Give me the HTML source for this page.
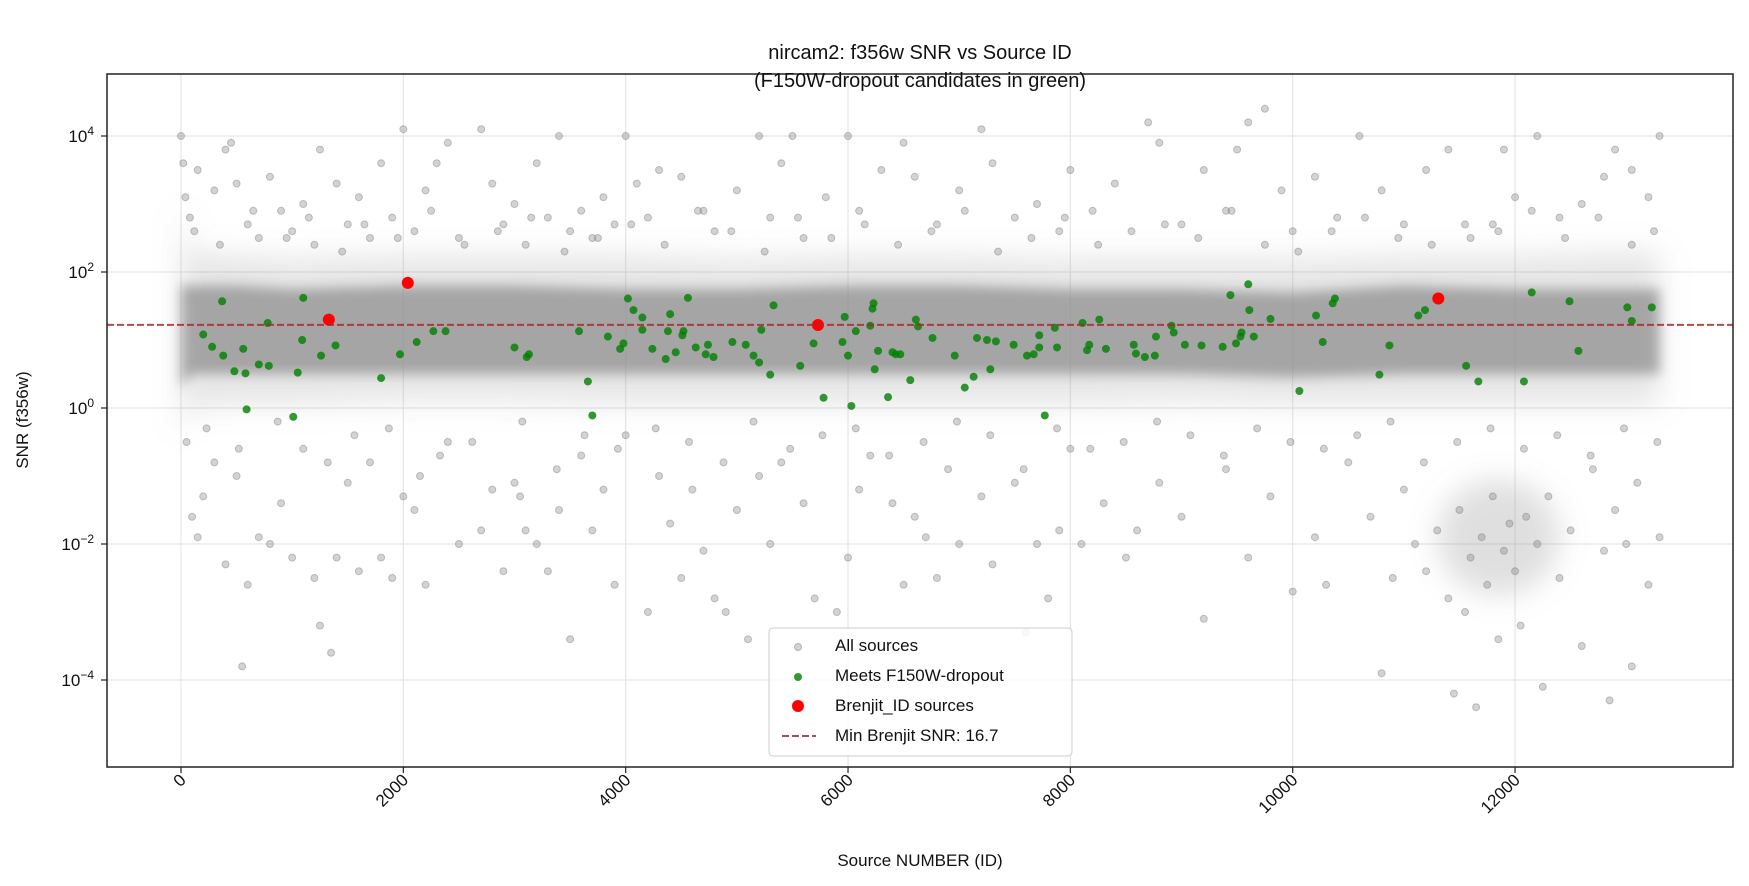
<!DOCTYPE html>
<html><head><meta charset="utf-8">
<style>
html,body{margin:0;padding:0;background:#fff;}
svg{display:block;font-family:"Liberation Sans","DejaVu Sans",sans-serif;}
</style></head>
<body>
<svg id="chart" width="1749" height="886" viewBox="0 0 1749 886">
<defs>
<filter id="soft" x="-10%" y="-50%" width="120%" height="200%"><feGaussianBlur stdDeviation="6"/></filter>
<filter id="soft2" x="-50%" y="-50%" width="200%" height="200%"><feGaussianBlur stdDeviation="14"/></filter>
</defs>
<rect x="0" y="0" width="1749" height="886" fill="#fff"/>
<g id="grid"></g>
<g id="density"></g>
<g id="gray"></g>
<g id="green"></g>
<g id="red"></g>
<g id="refline"></g>
<rect x="107" y="74" width="1626" height="693" fill="none" stroke="#222" stroke-width="1.5"/>
<g id="axes"></g>
<text x="920" y="59" text-anchor="middle" font-size="20" fill="#111">nircam2: f356w SNR vs Source ID</text>
<text x="920" y="87" text-anchor="middle" font-size="20" fill="#111">(F150W-dropout candidates in green)</text>
<text x="920" y="866" text-anchor="middle" font-size="17" fill="#111">Source NUMBER (ID)</text>
<text x="0" y="0" transform="translate(28,420) rotate(-90)" text-anchor="middle" font-size="17" fill="#111">SNR (f356w)</text>
<g>
<rect x="769" y="628" width="303" height="128" rx="4" fill="#fff" fill-opacity="0.85" stroke="#ccc"/>
<circle cx="798" cy="647" r="3.5" fill="#808080" fill-opacity="0.35" stroke="#808080" stroke-opacity="0.5"/>
<text x="835" y="651" font-size="17" fill="#111">All sources</text>
<circle cx="798" cy="677" r="4" fill="#008000" fill-opacity="0.8"/>
<text x="835" y="681" font-size="17" fill="#111">Meets F150W-dropout</text>
<circle cx="798" cy="706" r="6" fill="#ff0000"/>
<text x="835" y="711" font-size="17" fill="#111">Brenjit_ID sources</text>
<line x1="782" y1="736" x2="816" y2="736" stroke="#a52a2a" stroke-opacity="0.85" stroke-width="2" stroke-dasharray="7,3"/>
<text x="835" y="741" font-size="17" fill="#111">Min Brenjit SNR: 16.7</text>
</g>
</svg>
<script>
const xTicks=[0,2000,4000,6000,8000,10000,12000];
const yTickExps=[4,2,0,-2,-4];
const minBrenjitSnr=16.7;
const redIds=[1330,2040,5730,11310];
const redLogSnr=[1.30,1.84,1.22,1.61];
const greenIds=[200,280,370,380,480,560,580,590,700,780,790,1010,1050,1100,1090,1260,1390,1800,1970,2120,2270,2380,3000,3110,3130,3580,3660,3700,3840,3950,3980,4020,4070,4150,4150,4240,4360,4380,4400,4450,4510,4520,4560,4630,4720,4740,4790,4960,5080,5150,5200,5220,5300,5330,5570,5690,5780,5950,5970,6000,6030,6070,6200,6220,6230,6240,6270,6360,6400,6430,6470,6560,6610,6630,6760,6960,7050,7130,7160,7250,7280,7330,7490,7610,7670,7720,7720,7770,7860,7880,8110,8150,8170,8260,8320,8570,8590,8670,8760,8770,8910,8930,9030,9180,9370,9440,9490,9530,9540,9600,9610,9650,9800,10060,10210,10270,10360,10380,10780,10870,11130,11190,11560,11670,12080,12150,12490,12570,13010,13050,13230];
const greenLogSnr=[1.08,0.90,1.57,0.77,0.54,0.87,0.51,-0.02,0.64,1.25,0.62,-0.13,0.52,1.62,1.00,0.77,0.92,0.44,0.79,0.97,1.13,1.13,0.89,0.75,0.79,1.13,0.39,-0.11,1.05,0.87,0.95,1.61,1.44,1.33,1.15,0.87,0.72,1.13,1.38,0.82,1.07,1.13,1.62,0.89,0.79,0.93,0.75,0.97,0.93,0.77,0.67,1.15,0.49,1.51,0.62,0.95,0.15,0.97,1.34,0.77,0.03,1.13,1.21,1.46,1.54,0.57,0.84,0.16,0.82,0.79,0.79,0.41,1.30,1.20,1.03,0.77,0.30,0.46,1.03,1.00,0.57,0.98,0.93,0.77,0.79,0.89,1.07,-0.11,1.18,0.89,1.25,0.85,0.93,1.30,0.87,0.93,0.80,0.75,0.77,1.05,1.21,1.11,0.93,0.92,0.90,1.66,0.95,1.05,1.11,1.82,1.44,1.05,1.31,0.25,1.36,0.97,1.54,1.61,0.49,0.92,1.36,1.44,0.62,0.39,0.39,1.70,1.57,0.84,1.48,1.28,1.48];
const grayIds=[0,20,40,80,150,300,400,450,500,600,700,800,900,1000,1100,1200,1250,1400,1500,1600,1700,1800,1900,2000,2100,2200,2300,2400,2500,2700,2800,2900,3000,3100,3200,3300,3400,3500,3600,3700,3800,3900,4000,4100,4200,4300,4500,4700,4800,5000,5200,5300,5400,5500,5600,5800,6000,6100,6300,6500,6600,6800,7000,7200,7300,7500,7700,7900,8000,8200,8400,8700,8800,9000,9200,9400,9500,9600,9750,9900,10000,10200,10400,10600,10800,11000,11200,11400,11600,11800,11900,12000,12200,12400,12600,12800,12900,13050,13200,13300,
50,100,150,200,300,400,500,550,600,700,800,900,1000,1100,1200,1250,1350,1400,1500,1600,1700,1800,1900,2000,2100,2150,2200,2400,2500,2700,2800,2900,3000,3050,3100,3200,3300,3400,3500,3600,3700,3800,3900,4000,4200,4300,4400,4500,4600,4700,4800,4900,5000,5100,5200,5300,5400,5600,5700,5900,6000,6100,6200,6400,6500,6600,6700,6800,6900,7000,7200,7300,7500,7600,7700,7800,7900,8000,8100,8300,8500,8600,8800,9000,9200,9400,9600,9800,10000,10200,10300,10500,10700,10800,10900,11000,11100,11200,11300,11400,11450,11500,11550,11600,11650,11700,11750,11800,11850,11900,11950,12000,12050,12100,12200,12250,12300,12400,12500,12600,12700,12800,12850,12900,13000,13050,13100,13200,13300,
120,350,650,950,1150,1450,1650,1950,2250,2550,2850,3150,3450,3750,4050,4350,4650,4950,5250,5550,5850,6150,6450,6750,7050,7350,7650,7950,8250,8550,8850,9150,9450,9750,10050,10350,10650,10950,11250,11550,11850,12150,12450,12750,13050,13250,
230,520,870,1320,1560,1870,2330,2620,3070,3380,3630,3930,4270,4570,4880,5150,5480,5770,6070,6370,6680,6980,7280,7580,7880,8180,8480,8780,9080,9380,9680,9980,10280,10580,10880,11180,11480,11780,12080,12380,12680,12980,13280];
const grayLogSnr=[4.0,3.6,3.1,2.8,3.5,3.2,3.8,3.9,3.3,2.7,2.5,3.4,2.9,2.6,3.0,2.4,3.8,3.3,2.7,3.1,2.5,3.6,2.8,4.1,2.6,3.2,3.6,3.9,2.5,4.1,3.3,2.7,3.0,2.4,3.6,2.8,4.0,2.6,2.9,2.5,3.1,2.7,4.0,3.3,2.8,3.5,3.4,2.9,2.6,3.2,4.0,2.8,3.6,4.0,2.5,3.1,4.0,2.9,3.5,3.9,3.4,2.7,3.2,4.1,3.6,2.8,3.0,2.6,3.5,2.9,3.3,4.2,3.9,2.7,3.5,2.9,3.8,4.2,4.4,3.2,2.6,3.4,2.8,4.0,3.2,2.7,3.5,3.8,2.5,2.7,3.8,3.1,4.0,2.8,3.0,3.4,3.8,3.5,3.1,4.0,
-0.5,-1.6,-1.9,-1.3,-0.8,-2.3,-1.0,-3.8,-2.6,-1.9,-2.0,-1.4,-2.2,-0.6,-2.5,-3.2,-3.6,-2.2,-1.1,-2.4,-0.8,-2.2,-2.5,-1.3,-1.5,-1.0,-2.6,-0.5,-2.0,-1.8,-1.2,-2.4,-1.1,-1.3,-1.8,-2.0,-2.4,-1.5,-3.4,-0.7,-1.8,-1.2,-2.6,-0.4,-3.0,-1.0,-1.7,-2.5,-1.2,-2.1,-2.8,-3.0,-1.5,-3.4,-1.0,-2.0,-0.8,-1.4,-2.8,-3.0,-2.2,-1.2,-0.7,-1.4,-2.6,-1.6,-1.9,-2.5,-0.9,-2.0,-1.3,-2.3,-1.1,-3.3,-2.0,-2.8,-1.8,-0.6,-2.0,-1.4,-2.2,-1.8,-1.1,-1.6,-3.1,-0.9,-2.2,-1.3,-2.7,-1.9,-2.6,-0.8,-1.6,-3.9,-2.5,-1.2,-2.0,-2.4,-1.8,-2.8,-4.2,-1.5,-3.0,-2.2,-4.4,-1.9,-2.6,-1.3,-3.4,-2.1,-1.7,-2.4,-3.2,-1.6,-2.0,-4.1,-1.3,-2.5,-1.8,-3.5,-0.9,-2.1,-4.3,-1.5,-2.0,-3.8,-1.1,-2.6,-1.9,
2.6,2.4,2.9,2.5,2.8,2.3,2.7,2.5,2.9,2.4,2.6,2.8,2.3,2.5,2.7,2.4,2.9,2.6,2.3,2.8,2.5,2.7,2.4,2.6,2.9,2.3,2.5,2.8,2.4,2.6,2.7,2.5,2.9,2.4,2.3,2.6,2.8,2.5,2.4,2.7,2.6,2.9,2.5,2.8,2.4,2.6,
-0.3,-0.6,-0.2,-0.8,-0.4,-0.3,-0.7,-0.5,-0.2,-0.9,-0.4,-0.6,-0.3,-0.5,-0.8,-0.2,-0.6,-0.4,-0.3,-0.7,-0.5,-0.2,-0.4,-0.9,-0.3,-0.6,-0.5,-0.2,-0.4,-0.7,-0.3,-0.5,-0.6,-0.4,-0.2,-0.8,-0.5,-0.3,-0.6,-0.4,-0.7,-0.3,-0.5];
const bandIds=[0,100,500,1000,2000,3000,4000,5000,6000,7000,8000,9000,10000,11000,12000,13000,13300];
const bandCoreLow=[0.3,0.5,0.5,0.5,0.5,0.5,0.5,0.5,0.5,0.5,0.5,0.5,0.45,0.5,0.5,0.5,0.5];
const bandCoreHigh=[1.8,1.8,1.8,1.75,1.8,1.8,1.75,1.75,1.8,1.8,1.75,1.75,1.7,1.8,1.75,1.75,1.75];
const bandOuterLow=[-0.4,0.0,0.05,0.05,0.1,0.1,0.05,0.05,0.05,0.05,0.05,0.1,0.05,0.05,0.05,0.05,0.05];
const bandOuterHigh=[3.0,2.3,2.25,2.2,2.25,2.25,2.25,2.2,2.25,2.25,2.2,2.2,2.2,2.25,2.25,2.3,2.3];
const lowClusterId=[11850,550];
const lowClusterLog=[-1.9,0.85];

const NS='http://www.w3.org/2000/svg';
function X(id){return 181+id*0.11117;}
function Y(l){return 408-68*l;}
function mk(tag,attrs,parent){const e=document.createElementNS(NS,tag);for(const k in attrs)e.setAttribute(k,attrs[k]);parent.appendChild(e);return e;}
const gGrid=document.getElementById('grid'),gAxes=document.getElementById('axes');
xTicks.forEach(t=>{
  const l=mk('line',{x1:X(t),x2:X(t),y1:74,y2:767,stroke:'#e5e5e5','stroke-width':1.2},gGrid);
  
  
  const tk=mk('line',{x1:X(t),x2:X(t),y1:767,y2:773,stroke:'#222','stroke-width':1.2},gAxes);
  
  
  const tx=mk('text',{x:0,y:0,transform:`translate(${X(t)+6},${781}) rotate(-45)`,'text-anchor':'end','font-size':17,fill:'#111'},gAxes);
  tx.textContent=String(t);
  
  
});
yTickExps.forEach(e=>{
  const l=mk('line',{x1:107,x2:1733,y1:Y(e),y2:Y(e),stroke:'#e5e5e5','stroke-width':1.2},gGrid);
  
  
  const tk=mk('line',{x1:101,x2:107,y1:Y(e),y2:Y(e),stroke:'#222','stroke-width':1.2},gAxes);
  
  
  const tx=mk('text',{x:94,y:Y(e)+6,'text-anchor':'end','font-size':17,fill:'#111'},gAxes);
  tx.innerHTML='10<tspan dy="-7" font-size="12">'+e.toString().replace('-','\u2212')+'</tspan>';
  
  
});
const gD=document.getElementById('density');
function band(lo,hi,op,name,filt){
  let d='M'+bandIds.map((id,i)=>X(id)+','+Y(hi[i])).join(' L');
  d+=' L'+bandIds.slice().reverse().map((id,j)=>{const i=bandIds.length-1-j;return X(id)+','+Y(lo[i]);}).join(' L')+' Z';
  const p=mk('path',{d:d,fill:'#8c8c8c','fill-opacity':op,filter:filt},gD);
  
  
}
band(bandOuterLow,bandOuterHigh,0.22,'density-band-outer','url(#soft2)');
band(bandCoreLow,bandCoreHigh,0.72,'density-band-core','url(#soft)');
const ell=mk('ellipse',{cx:X(lowClusterId[0]),cy:Y(lowClusterLog[0]),rx:lowClusterId[1]*0.11117,ry:lowClusterLog[1]*68,fill:'#8c8c8c','fill-opacity':0.28,filter:'url(#soft2)'},gD);


const gG=document.getElementById('gray');
grayIds.forEach((id,i)=>{
  const c=mk('circle',{cx:X(id),cy:Y(grayLogSnr[i]),r:3.5,fill:'#808080','fill-opacity':0.35,stroke:'#808080','stroke-opacity':0.45},gG);
  
  
});
const gGr=document.getElementById('green');
greenIds.forEach((id,i)=>{
  const c=mk('circle',{cx:X(id),cy:Y(greenLogSnr[i]),r:4,fill:'#008000','fill-opacity':0.8},gGr);
  
  
});
const gR=document.getElementById('red');
redIds.forEach((id,i)=>{
  const c=mk('circle',{cx:X(id),cy:Y(redLogSnr[i]),r:6,fill:'#ff0000'},gR);
  
  
});
const rl=mk('line',{x1:107,x2:1733,y1:Y(Math.log10(minBrenjitSnr)),y2:Y(Math.log10(minBrenjitSnr)),stroke:'#a52a2a','stroke-opacity':0.85,'stroke-width':2,'stroke-dasharray':'7,3'},document.getElementById('refline'));


</script>
</body></html>
